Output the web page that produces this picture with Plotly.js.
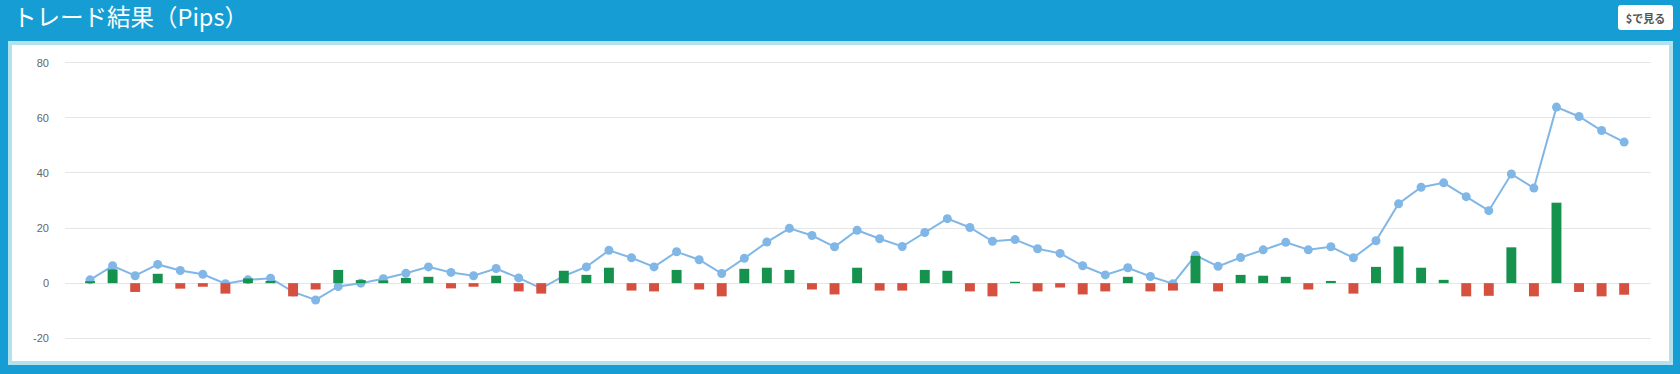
<!DOCTYPE html>
<html>
<head>
<meta charset="utf-8">
<script src="https://cdn.plot.ly/plotly-3.0.1.min.js"></script>
<style>
  html, body { margin: 0; padding: 0; }
  body { width: 1680px; height: 374px; background: #169ed4; position: relative; overflow: hidden; }
  #frame { position: absolute; left: 8px; top: 41px; width: 1665px; height: 324px; background: #b2e2ee; }
  #panel { position: absolute; left: 12px; top: 45px; width: 1657px; height: 316px; background: #ffffff; }
  #chart { position: absolute; left: 0; top: 0; width: 1680px; height: 374px; }
  #btn { position: absolute; left: 1618px; top: 5px; width: 55px; height: 25px; background: #fff; border-radius: 3px;
         font-family: "Noto Sans CJK JP", sans-serif; font-weight: bold; font-size: 11px; color: #555;
         display: flex; align-items: center; justify-content: center; }
</style>
</head>
<body>
<div id="frame"></div>
<div id="panel"></div>
<div id="chart"></div>
<div id="btn">$で見る</div>
<script>
// Per-trade result (pips)
const tradePips = [
  0.7, 5.0, -3.2, 3.4, -2.0, -1.3, -3.8, 1.7, 0.8, -4.8, -2.3, 4.8, 1.1, 1.0,
  1.9, 2.3, -1.9, -1.3, 2.7, -3.0, -3.8, 4.5, 3.0, 5.6, -2.7, -3.0, 4.8, -2.3, -4.8,
  5.2, 5.6, 4.8, -2.3, -4.1, 5.6, -2.7, -2.7, 4.8, 4.5, -3.0, -4.8, 0.5, -3.0,
  -1.6, -4.1, -3.0, 2.3, -3.0, -2.7, 9.9, -3.0, 3.0, 2.7, 2.3, -2.3, 0.8, -3.8,
  5.9, 13.3, 5.6, 1.2, -4.8, -4.6, 13.0, -4.8, 29.2, -3.2, -4.8, -4.2
];
// Cumulative result (pips)
const cumulativePips = [
  1.2, 6.3, 2.7, 6.8, 4.6, 3.2, -0.2, 1.2, 1.8, -3.2, -6.1, -1.2, 0.0, 1.6,
  3.6, 5.9, 3.9, 2.7, 5.3, 1.9, -1.9, 2.6, 5.9, 11.9, 9.2, 5.9, 11.4, 8.5, 3.5,
  9.0, 14.9, 19.9, 17.3, 13.2, 19.2, 16.1, 13.3, 18.4, 23.4, 20.2, 15.2, 15.8, 12.5,
  10.8, 6.3, 3.0, 5.6, 2.4, -0.2, 10.1, 6.1, 9.3, 12.1, 14.8, 12.1, 13.2, 9.2,
  15.4, 28.8, 34.8, 36.4, 31.4, 26.3, 39.6, 34.5, 63.9, 60.5, 55.4, 51.2
];
const tradeIndex = tradePips.map((_, i) => i);
const yTickVals = [-20, 0, 20, 40, 60, 80];
const yTickText = ["-20", "0", "20", "40", "60", "80"];

const GREEN = '#16924f', RED = '#d5503e', LINE = '#80b7e7';

const lineTrace = {
  type: 'scatter', mode: 'lines+markers',
  x: tradeIndex, y: cumulativePips,
  line: { color: LINE, width: 2 },
  marker: { color: LINE, size: 9 },
  xaxis: 'x', yaxis: 'y', hoverinfo: 'y'
};
const barTrace = {
  type: 'bar',
  x: tradeIndex, y: tradePips,
  width: 0.44,
  marker: { color: tradePips.map(v => v >= 0 ? GREEN : RED) },
  xaxis: 'x2', yaxis: 'y2', hoverinfo: 'y'
};

const xr = [-1.11, 69.19], yr = [-21, 81];
const layout = {
  width: 1680, height: 374,
  margin: { l: 65, r: 29, t: 60, b: 33 },
  paper_bgcolor: 'rgba(0,0,0,0)', plot_bgcolor: 'rgba(0,0,0,0)',
  showlegend: false,
  title: {
    text: 'トレード結果（Pips）',
    font: { family: '"Noto Sans CJK JP", sans-serif', size: 23.5, color: '#ffffff' },
    xref: 'container', yref: 'container', x: 13 / 1680, xanchor: 'left',
    y: 1 - 18 / 374, yanchor: 'middle'
  },
  xaxis: { range: xr, showgrid: false, zeroline: false, showticklabels: false, fixedrange: true },
  yaxis: {
    range: yr, tickvals: yTickVals, ticktext: yTickText,
    showgrid: true, gridcolor: '#e6e6e6', gridwidth: 1, zeroline: false,
    tickfont: { family: '"Liberation Sans", Arial, sans-serif', size: 11, color: '#666666' },
    ticks: '', ticklabelstandoff: 15, fixedrange: true
  },
  xaxis2: { range: xr, overlaying: 'x', visible: false, fixedrange: true },
  yaxis2: { range: yr, overlaying: 'y', visible: false, fixedrange: true }
};

Plotly.newPlot('chart', [lineTrace, barTrace], layout, { displayModeBar: false, staticPlot: true });
</script>
</body>
</html>
